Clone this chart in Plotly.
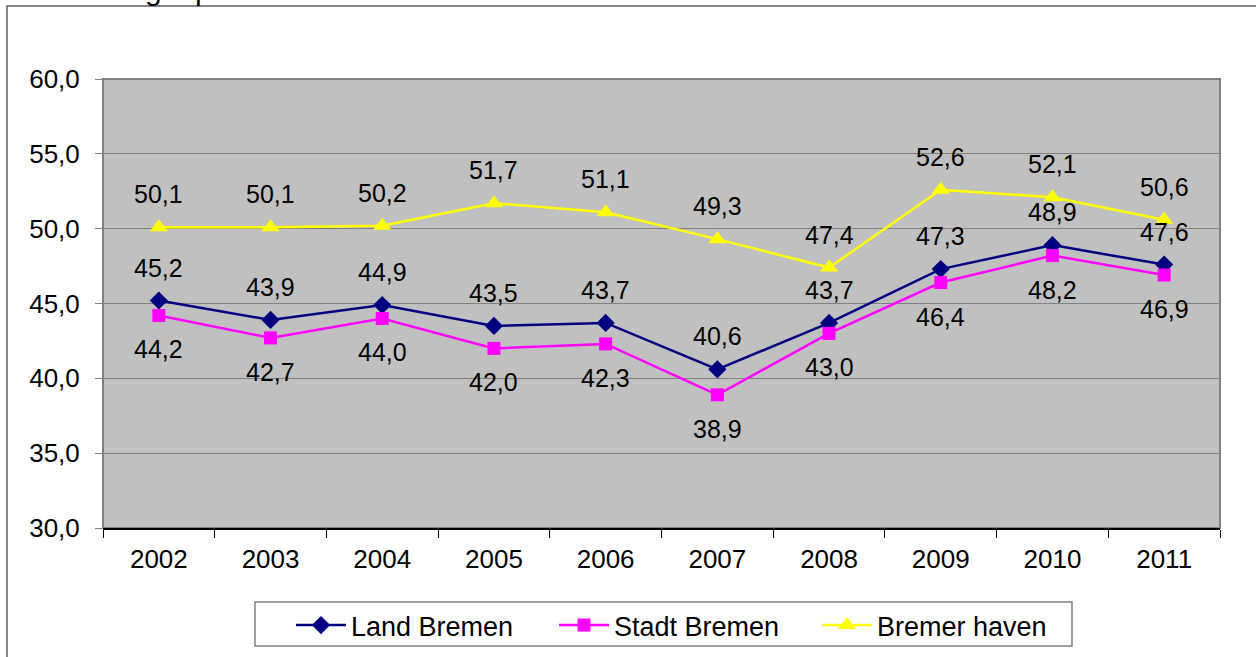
import plotly.graph_objects as go

years = ["2002", "2003", "2004", "2005", "2006", "2007", "2008", "2009", "2010", "2011"]
land_bremen = [45.2, 43.9, 44.9, 43.5, 43.7, 40.6, 43.7, 47.3, 48.9, 47.6]
stadt_bremen = [44.2, 42.7, 44.0, 42.0, 42.3, 38.9, 43.0, 46.4, 48.2, 46.9]
bremerhaven = [50.1, 50.1, 50.2, 51.7, 51.1, 49.3, 47.4, 52.6, 52.1, 50.6]
y_ticks = [30, 35, 40, 45, 50, 55, 60]

FONT = "Arial, 'Liberation Sans', sans-serif"

series = [
    ("Land Bremen", land_bremen, "#000080", "diamond", 14, 33),
    ("Stadt Bremen", stadt_bremen, "#FF00FF", "square", 13, -34),
    ("Bremer haven", bremerhaven, "#FFFF00", "triangle-up", 16, 33),
]

fig = go.Figure()
annotations = []
for name, vals, color, sym, msize, shift in series:
    fig.add_trace(go.Scatter(
        x=years, y=vals, name=name, mode="lines+markers",
        line=dict(color=color, width=2.5),
        marker=dict(symbol=sym, size=msize, color=color, line=dict(width=0)),
    ))
    for i, v in enumerate(vals):
        annotations.append(dict(
            x=i, y=v, xref="x", yref="y", text=f"{v:.1f}".replace(".", ","),
            showarrow=False, yshift=shift, font=dict(family=FONT, size=25, color="black"),
        ))

# clipped heading text above the chart frame
annotations.append(dict(
    x=(143 - 103) / 1117, y=(528 - 8) / 449, xref="paper", yref="paper",
    xanchor="left", yanchor="bottom", showarrow=False,
    text="g\u00a0\u00a0\u00a0\u00a0p", font=dict(family=FONT, size=30, color="black"),
))

W, H = 1256, 657
fig.update_layout(
    width=W, height=H,
    margin=dict(l=103, r=36, t=79, b=129),
    paper_bgcolor="white", plot_bgcolor="#C0C0C0",
    separators=",.",
    font=dict(family=FONT, size=25, color="black"),
    annotations=annotations,
    showlegend=True,
    legend=dict(
        orientation="h", xref="container", yref="container",
        x=291 / W, xanchor="left", y=1 - 601 / H, yanchor="top",
        borderwidth=0, bgcolor="rgba(0,0,0,0)",
        font=dict(family=FONT, size=27, color="black"),
        itemwidth=50, entrywidth=198, entrywidthmode="pixels",
        tracegroupgap=0,
    ),
    shapes=[
        dict(type="rect", xref="paper", yref="paper", x0=0, x1=1, y0=0, y1=1,
             line=dict(color="#808080", width=2), layer="below"),
        dict(type="rect", xref="paper", yref="paper",
             x0=(7 - 103) / 1117, x1=1.2, y0=-0.5, y1=(528 - 6) / 449,
             line=dict(color="#606060", width=1.5), layer="below"),
        dict(type="rect", xref="paper", yref="paper",
             x0=(255 - 103) / 1117, x1=(1072 - 103) / 1117,
             y0=-(646 - 528) / 449, y1=-(602 - 528) / 449,
             line=dict(color="#808080", width=1.5), fillcolor="white", layer="below"),
    ],
)

fig.update_xaxes(
    type="category", showgrid=False, showline=True, linecolor="black", linewidth=2,
    ticks="outside", tickson="boundaries", ticklen=8, tickcolor="black", tickwidth=1,
    ticklabelstandoff=7,
    tickfont=dict(family=FONT, size=26, color="black"), range=[-0.5, 9.5],
)
fig.update_yaxes(
    range=[30, 60], tickvals=y_ticks, tickformat=".1f",
    showgrid=True, gridcolor="#808080", gridwidth=1, zeroline=False,
    showline=False, ticks="outside", ticklen=7, tickcolor="#808080",
    ticklabelstandoff=10,
    tickfont=dict(family=FONT, size=26, color="black"),
)

fig.write_html("out.html", config={"displayModeBar": False},
               post_script="document.body.style.margin='0';")
